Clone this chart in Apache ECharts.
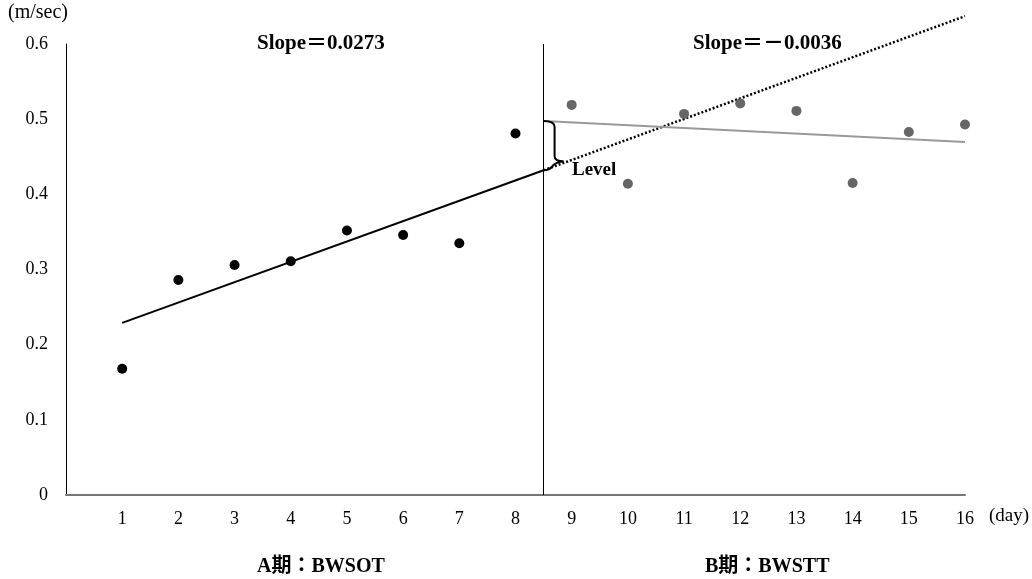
<!DOCTYPE html>
<html>
<head>
<meta charset="utf-8">
<script src="https://cdn.jsdelivr.net/npm/echarts@6/dist/echarts.min.js"></script>
<style>
  html, body { margin: 0; padding: 0; background: #fff; }
  #chart { width: 1032px; height: 579px; }
</style>
</head>
<body>
<div id="chart"></div>
<script>
  // A期 / B期 の実測値 (m/sec)
  var daysA = [1, 2, 3, 4, 5, 6, 7, 8];
  var valuesA = [0.168, 0.286, 0.306, 0.311, 0.352, 0.346, 0.335, 0.481];
  var daysB = [9, 10, 11, 12, 13, 14, 15, 16];
  var valuesB = [0.519, 0.414, 0.507, 0.521, 0.511, 0.415, 0.483, 0.493];

  // 回帰直線の端点 (picture から読み取り)
  var trendA = [[1, 0.229], [8.5, 0.432]];
  var trendAext = [[8.5, 0.432], [16, 0.637]];
  var trendB = [[8.5, 0.4975], [16, 0.4695]];
  var levelGap = [[8.5, 0.4975, 0.432]];
  var phaseSplit = 8.5;

  var font = '"Liberation Serif", "Times New Roman", "Noto Sans CJK JP", serif';

  function pairs(xs, ys) {
    return xs.map(function (x, i) { return [x, ys[i]]; });
  }

  var chart = echarts.init(document.getElementById('chart'));

  var option = {
    animation: false,
    grid: { left: 66, right: 67, top: 44, bottom: 84 },
    xAxis: {
      type: 'value',
      min: 0,
      max: 16,
      interval: 1,
      axisLine: { lineStyle: { color: '#777', width: 2 } },
      axisTick: { show: false },
      splitLine: { show: false },
      axisLabel: {
        margin: 15,
        fontFamily: font,
        fontSize: 18,
        color: '#000',
        formatter: function (v) { return v === 0 ? '' : String(v); }
      }
    },
    yAxis: {
      type: 'value',
      min: 0,
      max: 0.6,
      interval: 0.1,
      axisLine: { show: true, lineStyle: { color: '#000', width: 1 } },
      axisTick: { show: false },
      splitLine: { show: false },
      axisLabel: {
        margin: 18,
        fontFamily: font,
        fontSize: 18,
        color: '#000',
        formatter: function (v) { return v === 0 ? '0' : v.toFixed(1); }
      }
    },
    graphic: [
      { type: 'text', left: 8, top: 3, style: { text: '(m/sec)', font: '20px ' + font, fill: '#000' } },
      { type: 'text', left: 989, top: 507, style: { text: '(day)', font: '19px ' + font, fill: '#000' } },
      { type: 'text', left: 257, top: 33, style: { text: 'Slope＝0.0273', font: 'bold 21px ' + font, fill: '#000' } },
      { type: 'text', left: 693, top: 33, style: { text: 'Slope＝－0.0036', font: 'bold 21px ' + font, fill: '#000' } },
      { type: 'text', left: 572, top: 161, style: { text: 'Level', font: 'bold 19px ' + font, fill: '#000' } },
      { type: 'text', left: 257, top: 557, style: { text: 'A期：BWSOT', font: 'bold 20px ' + font, fill: '#000' } },
      { type: 'text', left: 705, top: 557, style: { text: 'B期：BWSTT', font: 'bold 20px ' + font, fill: '#000' } }
    ],
    series: [
      {
        name: 'A期',
        type: 'scatter',
        symbolSize: 10,
        itemStyle: { color: '#000', opacity: 1 },
        data: pairs(daysA, valuesA),
        z: 5,
        markLine: {
          silent: true,
          symbol: 'none',
          label: { show: false },
          lineStyle: { color: '#000', width: 1, type: 'solid' },
          data: [{ xAxis: phaseSplit }]
        }
      },
      {
        name: 'B期',
        type: 'scatter',
        symbolSize: 10,
        itemStyle: { color: '#666', opacity: 1 },
        data: pairs(daysB, valuesB),
        z: 5
      },
      {
        name: 'A期 trend',
        type: 'line',
        showSymbol: false,
        lineStyle: { color: '#000', width: 2 },
        data: trendA
      },
      {
        name: 'A期 trend ext',
        type: 'line',
        showSymbol: false,
        clip: false,
        lineStyle: { color: '#000', width: 2.5, type: [2, 2] },
        data: trendAext
      },
      {
        name: 'B期 trend',
        type: 'line',
        showSymbol: false,
        lineStyle: { color: '#999', width: 2 },
        data: trendB
      },
      {
        name: 'Level',
        type: 'custom',
        silent: true,
        data: levelGap,
        renderItem: function (params, api) {
          var top = api.coord([api.value(0), api.value(1)]);
          var bot = api.coord([api.value(0), api.value(2)]);
          var x0 = top[0], y0 = top[1], y1 = bot[1];
          var p = 'M' + x0 + ' ' + y0 +
            ' Q' + (x0 + 11) + ' ' + y0 + ' ' + (x0 + 11) + ' ' + (y0 + 6) +
            ' L' + (x0 + 11) + ' ' + (y1 - 14) +
            ' Q' + (x0 + 11) + ' ' + (y1 - 9) + ' ' + (x0 + 20) + ' ' + (y1 - 9) +
            ' Q' + (x0 + 11) + ' ' + (y1 - 8) + ' ' + (x0 + 8) + ' ' + (y1 - 3) +
            ' Q' + (x0 + 5) + ' ' + y1 + ' ' + x0 + ' ' + y1;
          return {
            type: 'path',
            shape: { pathData: p },
            style: { stroke: '#000', fill: null, lineWidth: 2 }
          };
        },
        z: 6
      }
    ]
  };

  chart.setOption(option);
</script>
</body>
</html>
